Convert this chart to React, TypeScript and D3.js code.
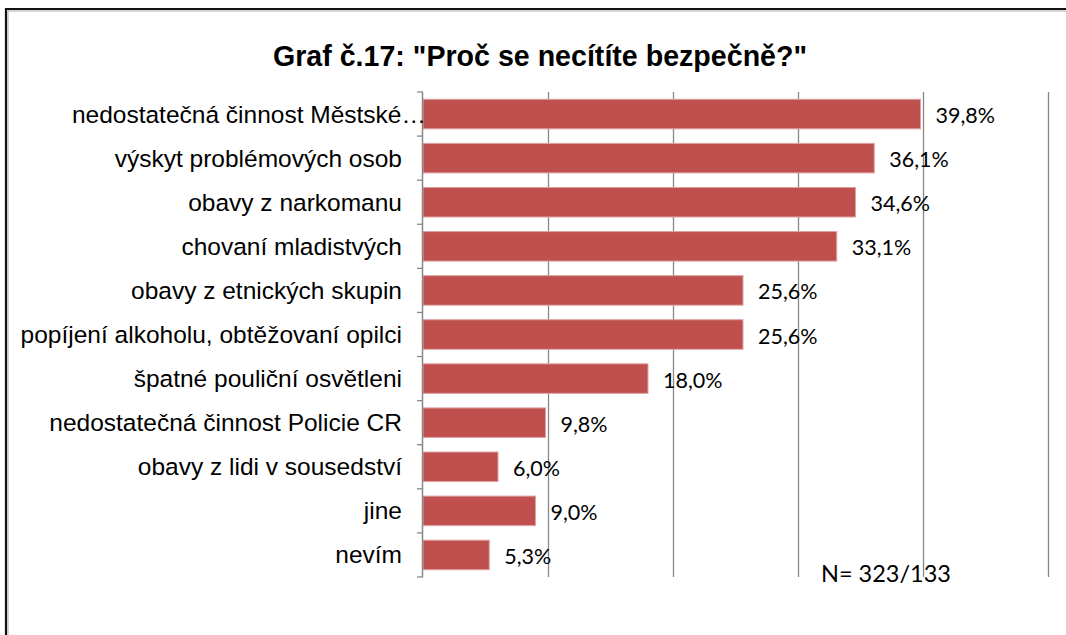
import { useEffect, useRef } from 'react';
import * as d3 from 'd3';

const categories = [
  'nedostatečná činnost Městské…',
  'výskyt problémových osob',
  'obavy z narkomanu',
  'chovaní mladistvých',
  'obavy z etnických skupin',
  'popíjení alkoholu, obtěžovaní opilci',
  'špatné pouliční osvětleni',
  'nedostatečná činnost Policie CR',
  'obavy z lidi v sousedství',
  'jine',
  'nevím',
];

const values = [39.8, 36.1, 34.6, 33.1, 25.6, 25.6, 18.0, 9.8, 6.0, 9.0, 5.3];

const gridTicks = [10, 20, 30, 40, 50];

const title = 'Graf č.17: "Proč se necítíte bezpečně?"';
const note = 'N= 323/133';

const App = () => {
  const svgRef = useRef<SVGSVGElement>(null);

  useEffect(() => {
    const width = 1066;
    const height = 635;
    const svg = d3.select(svgRef.current).attr('width', width).attr('height', height);
    svg.selectAll('*').remove();

    svg.append('rect').attr('width', width).attr('height', height).attr('fill', '#fff');

    // outer frame (cut off on right and bottom)
    svg.append('path')
      .attr('d', `M6,${height} V9 H${width}`)
      .attr('fill', 'none')
      .attr('stroke', '#111')
      .attr('stroke-width', 2.2);
    svg.append('path')
      .attr('d', `M8,${height} V11 H${width}`)
      .attr('fill', 'none')
      .attr('stroke', '#aaa')
      .attr('stroke-width', 1);

    const xScale = d3.scaleLinear().domain([0, 50]).range([423, 1048]);
    const yScale = d3.scaleBand<string>()
      .domain(categories)
      .range([92, 577])
      .paddingInner(0.33)
      .paddingOuter(0.165);

    const [y0, y1] = yScale.range();

    // gridlines
    svg.append('g')
      .selectAll('line')
      .data(gridTicks)
      .enter().append('line')
      .attr('x1', d => Math.round(xScale(d)) + 0.5)
      .attr('x2', d => Math.round(xScale(d)) + 0.5)
      .attr('y1', y0)
      .attr('y2', y1)
      .attr('stroke', '#888')
      .attr('stroke-width', 1.3);

    // bars
    svg.append('g')
      .selectAll('rect')
      .data(values)
      .enter().append('rect')
      .attr('x', xScale(0))
      .attr('y', (_, i) => yScale(categories[i])!)
      .attr('width', d => xScale(d) - xScale(0))
      .attr('height', yScale.bandwidth())
      .attr('fill', '#C0504D')
      .attr('stroke', '#dca3a2')
      .attr('stroke-width', 1);

    // category axis
    const step = yScale.step();
    const tickYs = d3.range(categories.length + 1).map(i => y0 + i * step);
    const axis = svg.append('g');
    axis.append('line')
      .attr('x1', xScale(0) - 0.5)
      .attr('x2', xScale(0) - 0.5)
      .attr('y1', y0)
      .attr('y2', y1)
      .attr('stroke', '#888')
      .attr('stroke-width', 1.5);
    axis.selectAll('.tick')
      .data(tickYs)
      .enter().append('line')
      .attr('class', 'tick')
      .attr('x1', xScale(0) - 6)
      .attr('x2', xScale(0))
      .attr('y1', d => d)
      .attr('y2', d => d)
      .attr('stroke', '#888')
      .attr('stroke-width', 1.3);

    // category labels
    svg.append('g')
      .selectAll('text')
      .data(categories)
      .enter().append('text')
      .attr('x', d => d.endsWith('…') ? 426 : 402)
      .attr('y', d => yScale(d)! + yScale.bandwidth() / 2 + 8.5)
      .attr('text-anchor', 'end')
      .attr('font-family', 'Liberation Sans, Arial, sans-serif')
      .attr('font-size', 24.5)
      .attr('fill', '#000')
      .text(d => d);

    // value labels
    svg.append('g')
      .selectAll('text')
      .data(values)
      .enter().append('text')
      .attr('x', d => xScale(d) + 15)
      .attr('y', (_, i) => yScale(categories[i])! + yScale.bandwidth() / 2 + 9)
      .attr('font-family', 'Lato, sans-serif')
      .attr('font-size', 21.5)
      .attr('fill', '#000')
      .text(d => d.toFixed(1).replace('.', ',') + '%');

    // title
    svg.append('text')
      .attr('x', 540)
      .attr('y', 66)
      .attr('text-anchor', 'middle')
      .attr('font-family', 'Liberation Sans, Arial, sans-serif')
      .attr('font-weight', 'bold')
      .attr('font-size', 28.6)
      .attr('fill', '#000')
      .text(title);

    // sample size note
    svg.append('text')
      .attr('x', 821)
      .attr('y', 582)
      .attr('font-family', 'Lato, sans-serif')
      .attr('font-size', 23.5)
      .attr('fill', '#000')
      .text(note);
  }, []);

  return (
    <div style={{ position: 'absolute', left: 0, top: 0 }}>
      <svg ref={svgRef} style={{ display: 'block' }} />
    </div>
  );
};

export default App;
